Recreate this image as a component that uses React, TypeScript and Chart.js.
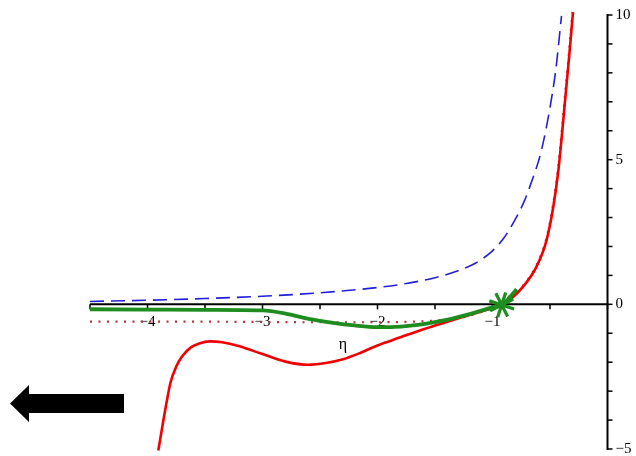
import React, { useEffect, useRef } from "react";
import { Chart, registerables } from "chart.js";

Chart.register(...registerables);

// Axis ranges
const X_MIN = -4.5;
const X_MAX = 0;
const Y_MIN = -5;
const Y_MAX = 10;

// Tick marks and labels
const xTickMarks = [-4.5, -4, -3.5, -3, -2.5, -2, -1.5, -1, -0.5, 0];
const xTickLabels = [-4, -3, -2, -1];
const yTickMarks = [-5, -4, -3, -2, -1, 0, 1, 2, 3, 4, 5, 6, 7, 8, 9, 10];
const yTickLabels = [-5, 0, 5, 10];

// Blue dashed curve
const blueX = [-4.5, -4.0, -3.5, -3.0, -2.5, -2.0, -1.75, -1.5, -1.3, -1.15, -1.0, -0.9, -0.8, -0.72, -0.65, -0.6, -0.57, -0.54, -0.5, -0.45, -0.4];
const blueY = [0.1, 0.14, 0.2, 0.28, 0.4, 0.58, 0.72, 0.92, 1.16, 1.42, 1.85, 2.3, 2.95, 3.6, 4.35, 4.95, 5.4, 5.95, 6.8, 8.1, 9.97];

// Red solid curve
const redX = [-3.906, -3.87, -3.83, -3.8, -3.75, -3.7, -3.62, -3.55, -3.46, -3.35, -3.2, -3.0, -2.8, -2.6, -2.45, -2.3, -2.15, -2.0, -1.8, -1.6, -1.4, -1.2, -1.05, -0.906, -0.833, -0.732, -0.616, -0.529, -0.471, -0.428, -0.4, -0.37, -0.335, -0.3];
const redY = [-5.05, -4.2, -3.3, -2.7, -2.15, -1.8, -1.48, -1.35, -1.28, -1.31, -1.45, -1.72, -1.98, -2.09, -2.03, -1.9, -1.68, -1.42, -1.14, -0.86, -0.61, -0.37, -0.19, 0, 0.21, 0.62, 1.31, 2.23, 3.38, 4.6, 5.7, 7.0, 8.5, 10.1];

// Dotted curve
const dotX = [-4.5, -4, -3.5, -3, -2.5, -2, -1.7, -1.5, -1.3, -1.15, -1.0, -0.9, -0.83, -0.735, -0.62, -0.533, -0.475, -0.432, -0.404, -0.374, -0.339, -0.304];
const dotY = [-0.6, -0.6, -0.6, -0.61, -0.62, -0.62, -0.6, -0.56, -0.47, -0.33, -0.12, 0.03, 0.23, 0.64, 1.33, 2.25, 3.4, 4.62, 5.72, 7.02, 8.52, 10.1];

// Green thick curve
const greenX = [-4.5, -4, -3.5, -3, -2.8, -2.6, -2.4, -2.2, -2.0, -1.85, -1.6, -1.4, -1.2, -1.0, -0.906, -0.85, -0.79];
const greenY = [-0.17, -0.18, -0.19, -0.21, -0.32, -0.5, -0.63, -0.73, -0.79, -0.78, -0.68, -0.54, -0.34, -0.1, 0.02, 0.25, 0.52];

// Star marker
const starX = [-0.92];
const starY = [-0.02];

const toPoints = (xs: number[], ys: number[]) => xs.map((x, i) => ({ x, y: ys[i] }));

const fmt = (v: number) => (v < 0 ? "\u2212" + Math.abs(v) : String(v));

const axesPlugin = {
  id: "crossAxes",
  beforeDatasetsDraw(chart: any) {
    const { ctx } = chart;
    const xs = chart.scales.x;
    const ys = chart.scales.y;
    const x0 = xs.getPixelForValue(0);
    const y0 = ys.getPixelForValue(0);
    ctx.save();
    ctx.strokeStyle = "#000";
    ctx.fillStyle = "#000";
    ctx.lineWidth = 2;
    ctx.lineCap = "butt";

    // horizontal axis
    ctx.beginPath();
    ctx.moveTo(xs.getPixelForValue(X_MIN), y0);
    ctx.lineTo(x0 + 1, y0);
    ctx.stroke();
    ctx.lineWidth = 1.5;
    for (const v of xTickMarks) {
      const px = xs.getPixelForValue(v);
      ctx.beginPath();
      ctx.moveTo(px, y0);
      ctx.lineTo(px, y0 + 5);
      ctx.stroke();
    }
    ctx.font = "15px 'Liberation Serif', serif";
    ctx.textAlign = "center";
    ctx.textBaseline = "middle";
    for (const v of xTickLabels) {
      ctx.fillText(fmt(v), xs.getPixelForValue(v), y0 + 18);
    }

    // vertical axis
    ctx.lineWidth = 2;
    ctx.beginPath();
    ctx.moveTo(x0, ys.getPixelForValue(Y_MAX) - 1);
    ctx.lineTo(x0, ys.getPixelForValue(Y_MIN) + 1);
    ctx.stroke();
    ctx.lineWidth = 1.5;
    for (const v of yTickMarks) {
      const py = ys.getPixelForValue(v);
      ctx.beginPath();
      ctx.moveTo(x0, py);
      ctx.lineTo(x0 + 5, py);
      ctx.stroke();
    }
    ctx.textAlign = "left";
    for (const v of yTickLabels) {
      ctx.fillText(fmt(v), x0 + 8, ys.getPixelForValue(v));
    }

    // axis name
    ctx.font = "16px 'Liberation Serif', serif";
    ctx.textAlign = "center";
    ctx.fillText("\u03B7", xs.getPixelForValue(-2.3), ys.getPixelForValue(-1.4));

    // direction arrow
    ctx.beginPath();
    ctx.moveTo(10, 403.5);
    ctx.lineTo(29, 385);
    ctx.lineTo(29, 394);
    ctx.lineTo(124, 394);
    ctx.lineTo(124, 413);
    ctx.lineTo(29, 413);
    ctx.lineTo(29, 422);
    ctx.closePath();
    ctx.fill();
    ctx.restore();
  },
};

export default function App() {
  const ref = useRef<HTMLCanvasElement | null>(null);

  useEffect(() => {
    if (!ref.current) return;
    const chart = new Chart(ref.current, {
      type: "line",
      data: {
        datasets: [
          {
            label: "dotted",
            data: toPoints(dotX, dotY),
            borderColor: "#b03838",
            borderWidth: 2.2,
            borderDash: [2, 6.5],
            pointRadius: 0,
            cubicInterpolationMode: "monotone",
            clip: 6,
            order: 4,
          },
          {
            label: "blue",
            data: toPoints(blueX, blueY),
            borderColor: "#2020d8",
            borderWidth: 1.6,
            borderDash: [14, 7],
            pointRadius: 0,
            cubicInterpolationMode: "monotone",
            clip: 6,
            order: 3,
          },
          {
            label: "red",
            data: toPoints(redX, redY),
            borderColor: "#f00000",
            borderWidth: 2.6,
            pointRadius: 0,
            cubicInterpolationMode: "monotone",
            clip: 6,
            order: 2,
          },
          {
            label: "green",
            data: toPoints(greenX, greenY),
            borderColor: "#1f8c1f",
            borderWidth: 3.8,
            pointRadius: 0,
            cubicInterpolationMode: "monotone",
            clip: 6,
            order: 1,
          },
          {
            label: "marker",
            data: toPoints(starX, starY),
            showLine: false,
            borderColor: "#1f8c1f",
            backgroundColor: "#1f8c1f",
            pointStyle: "star",
            pointRadius: 13,
            pointBorderWidth: 3.2,
            pointRotation: 18,
            clip: 20,
            order: 0,
          },
        ],
      },
      options: {
        animation: false,
        responsive: true,
        maintainAspectRatio: false,
        layout: { autoPadding: false, padding: { left: 90, right: 28.5, top: 15, bottom: 7 } },
        plugins: { legend: { display: false }, tooltip: { enabled: false } },
        scales: {
          x: { type: "linear", min: X_MIN, max: X_MAX, display: false },
          y: { type: "linear", min: Y_MIN, max: Y_MAX, display: false },
        },
      },
      plugins: [axesPlugin],
    });
    return () => chart.destroy();
  }, []);

  return (
    <div style={{ position: "fixed", left: 0, top: 0, width: 636, height: 456, background: "#fff" }}>
      <canvas ref={ref} />
    </div>
  );
}
